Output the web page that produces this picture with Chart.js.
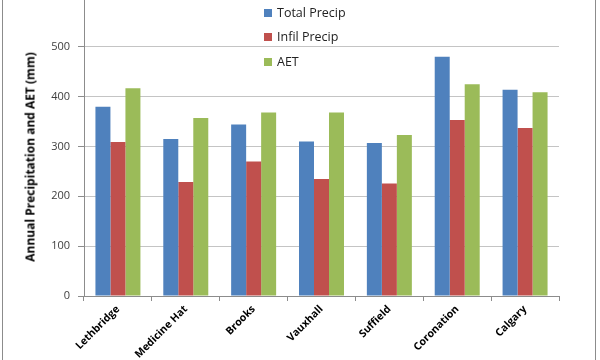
<!DOCTYPE html>
<html><head><meta charset="utf-8">
<script src="https://cdn.jsdelivr.net/npm/chart.js@4/dist/chart.umd.min.js"></script>
<style>
html,body{margin:0;padding:0;background:#fff;overflow:hidden;width:600px;height:360px;position:relative;}
#frame{position:absolute;left:2px;top:-5px;width:592px;height:400px;border:1px solid #8c8c8c;}
#c{position:absolute;left:0;top:-20px;}
#ytitle{position:absolute;left:30px;top:157px;transform:translate(-50%,-50%) rotate(-90deg);font:bold 12px 'Open Sans',sans-serif;white-space:nowrap;color:#000;}
#legend{position:absolute;left:264px;top:0;font:12.5px 'Open Sans',sans-serif;color:#222;}
.li{position:absolute;left:0;white-space:nowrap;height:16px;line-height:16px;}
.sw{display:inline-block;width:8px;height:8px;margin-right:5px;vertical-align:0px;}
</style>
</head><body>
<div id="frame"></div>
<canvas id="c" width="600" height="380"></canvas>
<div id="ytitle">Annual Precipitation and AET (mm)</div>
<div id="legend"></div>
<script>
const categories = ['Lethbridge','Medicine Hat','Brooks','Vauxhall','Suffield','Coronation','Calgary'];
const totalPrecip = [380,315,344,310,307,480,414];
const infilPrecip = [309,229,270,235,226,353,337];
const aet = [417,357,368,368,323,425,409];
const seriesNames = ['Total Precip','Infil Precip','AET'];
const colors = ['#4F81BD','#C0504D','#9BBB59'];
const yTicks = [0,100,200,300,400,500,600];

const FONT = "'Open Sans', sans-serif";
const datasets = [totalPrecip, infilPrecip, aet].map((d,i)=>({
  label: seriesNames[i], data: d, backgroundColor: colors[i], borderWidth:0,
  categoryPercentage: 0.663, barPercentage: 1.0
}));

new Chart(document.getElementById('c'), {
  type:'bar',
  data:{labels:categories, datasets},
  options:{
    responsive:false, animation:false, devicePixelRatio:1,
    layout:{padding:{top:17,right:41,left:0,bottom:0}},
    plugins:{legend:{display:false}, tooltip:{enabled:false}},
    scales:{
      x:{
        grid:{display:true, drawOnChartArea:false, tickLength:5, color:'#8c8c8c', offset:true},
        border:{color:'#8c8c8c'},
        ticks:{minRotation:45, maxRotation:45, autoSkip:false, color:'#000', padding:2,
               font:{family:FONT, size:10.5, weight:'bold'}},
        afterFit:s=>{s.height=64;}
      },
      y:{
        min:yTicks[0], max:yTicks[yTicks.length-1],
        afterBuildTicks:s=>{s.ticks=yTicks.map(v=>({value:v}));},
        grid:{color:'#c4c4c4', tickColor:'#8c8c8c', tickLength:6},
        border:{color:'#8c8c8c'},
        ticks:{color:'#404040', padding:8, font:{family:FONT, size:11}},
        afterFit:s=>{s.width=84;}
      }
    }
  }
});

const lg = document.getElementById('legend');
const tops = [5,29,54];
seriesNames.forEach((n,i)=>{
  const d=document.createElement('div'); d.className='li'; d.style.top=tops[i]+'px';
  const s=document.createElement('span'); s.className='sw'; s.style.background=colors[i];
  d.appendChild(s); d.appendChild(document.createTextNode(n)); lg.appendChild(d);
});
</script>
</body></html>
